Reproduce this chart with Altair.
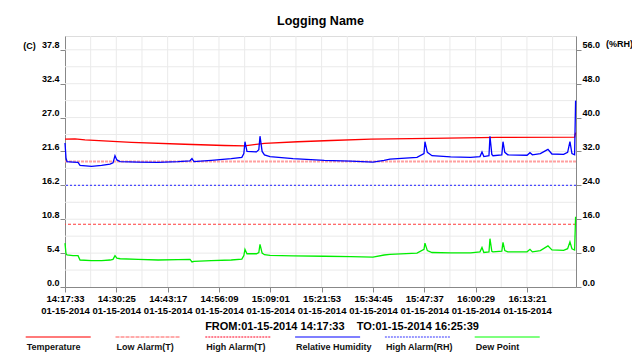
import altair as alt
import pandas as pd

FONT = "Liberation Sans, Arial, sans-serif"

chart_title = "Logging Name"
range_text = "FROM:01-15-2014 14:17:33\u00a0\u00a0\u00a0\u00a0TO:01-15-2014 16:25:39"
total_seconds = 7686

# x tick labels (seconds from start -> clock time)
tick_secs = [0, 772, 1544, 2316, 3088, 3860, 4632, 5404, 6176, 6948]
tick_times = ["14:17:33", "14:30:25", "14:43:17", "14:56:09", "15:09:01",
              "15:21:53", "15:34:45", "15:47:37", "16:00:29", "16:13:21"]
tick_date = "01-15-2014"
x_grid = [386, 772, 1158, 1544, 1930, 2316, 2702, 3088, 3474, 3860, 4246,
          4632, 5018, 5404, 5790, 6176, 6562, 6948, 7334]

t_ticks = [0.0, 5.4, 10.8, 16.2, 21.6, 27.0, 32.4, 37.8]
t_grid = [2.7, 5.4, 8.1, 10.8, 13.5, 16.2, 18.9, 21.6, 24.3, 27.0,
          29.7, 32.4, 35.1, 37.8]
rh_ticks = [0, 8, 16, 24, 32, 40, 48, 56]
t_max = 40.0
rh_max = 59.26

# readings (seconds from 14:17:33)
time_s = [0, 15, 30, 120, 196, 226, 400, 550, 677, 722,
          752, 780, 830, 1100, 1400, 1700, 1880, 1910, 1940, 2200,
          2500, 2660, 2690, 2707, 2737, 2880, 2915, 2933, 2965, 3000,
          3083, 3430, 3900, 4300, 4632, 4800, 4888, 5294, 5400, 5414,
          5450, 5520, 5800, 6100, 6242, 6272, 6300, 6377, 6392, 6420,
          6437, 6570, 6588, 6615, 6660, 6950, 6994, 7030, 7150, 7264,
          7324, 7500, 7560, 7595, 7625, 7665, 7680]
rh_values = [34.0, 30.5, 29.6, 29.5, 29.4, 28.7, 28.5, 28.7, 29.0, 29.3,
             31.0, 30.0, 29.6, 29.5, 29.4, 29.6, 29.8, 30.3, 29.6, 29.9,
             30.3, 30.6, 31.5, 34.3, 32.0, 31.9, 32.4, 35.6, 32.0, 31.2,
             30.8, 30.3, 29.9, 29.7, 29.5, 29.9, 30.2, 30.6, 31.5, 34.3,
             31.8, 31.0, 30.7, 30.6, 30.8, 31.9, 30.8, 31.0, 35.6, 31.3,
             31.0, 31.2, 34.3, 31.8, 31.2, 31.1, 31.7, 31.2, 31.5, 32.5,
             31.4, 31.3, 31.8, 34.3, 31.5, 31.2, 44.0]
dew_values = [7.0, 5.3, 5.1, 5.0, 5.0, 4.3, 4.2, 4.2, 4.3, 4.4,
              5.0, 4.6, 4.5, 4.4, 4.3, 4.35, 4.4, 4.0, 4.1, 4.2,
              4.3, 4.45, 5.0, 6.0, 5.3, 5.3, 5.5, 6.8, 5.4, 5.15,
              5.05, 4.95, 4.9, 4.85, 4.75, 5.1, 5.2, 5.4, 6.0, 7.0,
              5.8, 5.5, 5.45, 5.45, 5.6, 6.3, 5.5, 5.6, 7.7, 5.7,
              5.6, 5.7, 7.1, 5.8, 5.6, 5.6, 6.0, 5.6, 5.8, 6.55,
              5.9, 5.85, 6.1, 7.2, 6.1, 5.9, 11.2]
temp_time_s = [0, 150, 300, 1000, 1800, 2400, 2700, 3000, 3500, 4000,
               4600, 5500, 6500, 7665, 7680]
temp_values = [23.55, 23.6, 23.45, 23.05, 22.75, 22.55, 22.5, 22.9, 23.15, 23.35,
               23.55, 23.7, 23.85, 23.9, 24.6]

low_alarm_t = 20.0
high_alarm_t = 10.0
high_alarm_rh = 24.0

legend_names = ["Temperature", "Low Alarm(T)", "High Alarm(T)",
                "Relative Humidity", "High Alarm(RH)", "Dew Point"]
legend_colors = ["#ff7a7a", "#ffaaaa", "#ff7f90", "#7f7fff", "#9a9aff", "#7fff7f"]
legend_dashes = [[1, 0], [4, 1], [2, 1], [1, 0], [2, 1], [1, 0]]

df_temp = pd.DataFrame({"t": temp_time_s, "v": temp_values})
df_dew = pd.DataFrame({"t": time_s, "v": dew_values})
df_rh = pd.DataFrame({"t": time_s, "v": rh_values})
df_low = pd.DataFrame({"v": [low_alarm_t]})
df_high = pd.DataFrame({"v": [high_alarm_t]})
df_rh_alarm = pd.DataFrame({"v": [high_alarm_rh]})
df_xgrid = pd.DataFrame({"t": x_grid})
df_ygrid = pd.DataFrame({"v": t_grid})
df_leg = pd.DataFrame({"name": legend_names, "i": list(range(len(legend_names)))})

x_scale = alt.Scale(domain=[0, total_seconds], nice=False, zero=False)
t_scale = alt.Scale(domain=[0, t_max], nice=False, zero=False)
rh_scale = alt.Scale(domain=[0, rh_max], nice=False, zero=False)

label_expr = "[{}[indexof({}, datum.value)], '{}']".format(
    str(tick_times), str(tick_secs), tick_date)

x_axis = alt.Axis(
    orient="bottom", values=tick_secs, labelExpr=label_expr, grid=False,
    labelFont=FONT, labelFontWeight="bold", labelColor="#000000",
    labelFontSize=9.5, labelLineHeight=12, labelPadding=1, labelFlush=False,
    labelOverlap=False, labelBound=False,
    title=range_text, titleX=276.5, titleY=39, titleAlign="center",
    titleBaseline="middle", titleFontSize=11, titleFontWeight="bold",
    titleFont=FONT, titleColor="#000000")
t_axis = alt.Axis(
    orient="left", values=t_ticks, format=".1f", grid=False,
    labelFont=FONT, labelFontWeight="bold", labelColor="#000000",
    labelFontSize=9, labelBaseline="bottom", labelPadding=1, labelOverlap=False,
    labelFlush=False,
    title="(C)", titleAngle=0, titleX=-36, titleY=9, titleAlign="center",
    titleBaseline="middle", titleFontSize=9, titleFontWeight="bold",
    titleFont=FONT, titleColor="#000000")
rh_axis = alt.Axis(
    orient="right", values=rh_ticks, format=".1f", grid=False,
    labelFont=FONT, labelFontWeight="bold", labelColor="#000000",
    labelFontSize=9, labelBaseline="bottom", labelPadding=1, labelOverlap=False,
    labelFlush=False,
    title="(%RH)", titleAngle=0, titleX=43, titleY=7, titleAlign="center",
    titleBaseline="middle", titleFontSize=9, titleFontWeight="bold",
    titleFont=FONT, titleColor="#000000")

X = alt.X("t:Q", scale=x_scale, axis=x_axis)
YT = alt.Y("v:Q", scale=t_scale, axis=t_axis)
YRH = alt.Y("v:Q", scale=rh_scale, axis=rh_axis)

xgrid_rules = alt.Chart(df_xgrid).mark_rule(color="#eaeaea", strokeWidth=1).encode(x=X)
ygrid_rules = alt.Chart(df_ygrid).mark_rule(color="#eaeaea", strokeWidth=1).encode(y=YT)
low_rule = alt.Chart(df_low).mark_rule(
    color="#ffa0a0", strokeWidth=2, strokeDash=[3, 1]).encode(y=YT)
high_rule = alt.Chart(df_high).mark_rule(
    color="#ff3a3a", strokeWidth=1, strokeDash=[3, 2]).encode(y=YT)
dew_line = alt.Chart(df_dew).mark_line(
    color="#00ee00", strokeWidth=1.3).encode(x=X, y=YT)
temp_line = alt.Chart(df_temp).mark_line(
    color="#ff0000", strokeWidth=1.3).encode(x=X, y=YT)
t_group = alt.layer(xgrid_rules, ygrid_rules, low_rule, high_rule, dew_line, temp_line)

rh_rule = alt.Chart(df_rh_alarm).mark_rule(
    color="#4a4aff", strokeWidth=1.2, strokeDash=[2, 2]).encode(y=YRH)
rh_line = alt.Chart(df_rh).mark_line(
    color="#0000ff", strokeWidth=1.3).encode(x=X, y=YRH)
rh_group = alt.layer(rh_rule, rh_line)

data_group = alt.layer(t_group, rh_group).resolve_scale(y="independent")

leg_x = alt.X("i:Q", scale=alt.Scale(domain=[0, 5], range=[-39.3, 409.7], nice=False, zero=False), axis=None)
leg_rules = alt.Chart(df_leg).transform_calculate(
    i_end="datum.i + 0.724").mark_rule(strokeWidth=2).encode(
    x=leg_x, x2="i_end:Q", y=alt.value(301),
    color=alt.Color("name:N", scale=alt.Scale(domain=legend_names, range=legend_colors), legend=None),
    strokeDash=alt.StrokeDash("name:N", scale=alt.Scale(domain=legend_names, range=legend_dashes), legend=None))
leg_text = alt.Chart(df_leg).mark_text(
    align="left", baseline="middle", fontSize=9, fontWeight="bold", font=FONT,
    color="#111111", dx=1).encode(x=leg_x, y=alt.value(310.5), text="name:N")
legend_group = alt.layer(leg_rules, leg_text)

chart = alt.layer(data_group, legend_group).resolve_scale(
    x="independent", y="independent"
).properties(
    width=511, height=251,
    autosize=alt.AutoSizeParams(type="none"),
    padding={"left": 57, "top": 28, "right": 56, "bottom": 65},
    title=alt.TitleParams(text=chart_title, font=FONT, fontSize=12.5,
                          fontWeight="bold", color="#000000", anchor="middle", offset=8),
).configure_axis(
    domainColor="#808080", tickColor="#808080", tickSize=5,
).configure_view(
    stroke="#808080", strokeWidth=1
).configure(background="#ffffff")

chart.save("out.html", embed_options={"renderer": "svg", "actions": False})
